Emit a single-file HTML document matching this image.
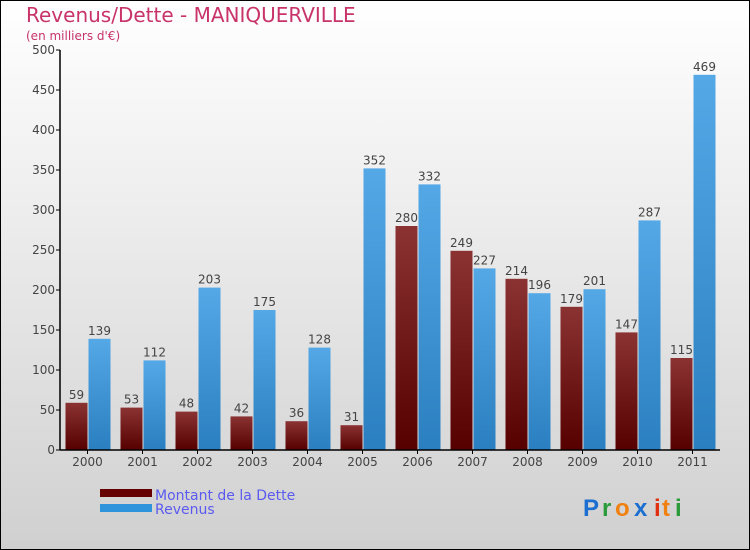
<!DOCTYPE html>
<html><head><meta charset="utf-8"><style>
body{margin:0}
#c{width:750px;height:550px;position:relative;overflow:hidden;font-family:"DejaVu Sans","Liberation Sans",sans-serif}
</style></head><body>
<div id="c">
<svg id="s" width="750" height="550" xmlns="http://www.w3.org/2000/svg">
<defs>
<linearGradient id="bg" x1="0" y1="0" x2="0" y2="1"><stop offset="0" stop-color="#ffffff"/><stop offset="1" stop-color="#d0d0d0"/></linearGradient>
<linearGradient id="gd" x1="0" y1="0" x2="0" y2="1"><stop offset="0" stop-color="#8b3333"/><stop offset="1" stop-color="#560000"/></linearGradient>
<linearGradient id="gr" x1="0" y1="0" x2="0" y2="1"><stop offset="0" stop-color="#55a8e6"/><stop offset="1" stop-color="#2a7fc0"/></linearGradient>
</defs>
<rect x="0.5" y="0.5" width="749" height="549" fill="url(#bg)" stroke="#000"/>
<text x="26" y="22" font-size="20" fill="#c8336a">Revenus/Dette - MANIQUERVILLE</text>
<text x="26" y="40" font-size="12" fill="#c8336a">(en milliers d'€)</text>
<g id="grid"></g>
<g id="bars"></g>
<g id="axes"></g>
<rect x="100" y="489" width="52" height="8" fill="#660000"/>
<rect x="100" y="504" width="52" height="8" fill="#2e95dd"/>
<text x="155" y="500" font-size="14" fill="#5a5af0">Montant de la Dette</text>
<text x="155" y="514" font-size="14" fill="#5a5af0">Revenus</text>
<g font-size="24" font-family="Liberation Sans,sans-serif" font-weight="bold">
<text x="583" y="516" fill="#1a6fd0">P</text><text x="602" y="516" fill="#2a9a3a">r</text><text x="615" y="516" fill="#f08010">o</text><text x="634" y="516" fill="#1a6fd0">x</text><text x="654" y="516" fill="#e03010">i</text><text x="662" y="516" fill="#f08010">t</text><text x="675" y="516" fill="#2a9a3a">i</text>
</g>
</svg>
</div>
<script>
const categories=["2000","2001","2002","2003","2004","2005","2006","2007","2008","2009","2010","2011"];
const dette=[59,53,48,42,36,31,280,249,214,179,147,115];
const revenus=[139,112,203,175,128,352,332,227,196,201,287,469];
const yTicks=[0,50,100,150,200,250,300,350,400,450,500];
const NS="http://www.w3.org/2000/svg";
const x0=60,groupW=55,y0=450,yMax=500,plotH=400,bw=22;
const y=v=>y0-v/yMax*plotH;
const xc=i=>x0+groupW*(i+0.5);
function mk(t,a,parent){const e=document.createElementNS(NS,t);for(const k in a)e.setAttribute(k,a[k]);parent.appendChild(e);return e;}
const grid=document.getElementById('grid'),bars=document.getElementById('bars'),axes=document.getElementById('axes');
yTicks.forEach(t=>{
 const tk=mk('line',{x1:x0-4,x2:x0,y1:y(t),y2:y(t),stroke:'#000'},axes);
 
 
 const l=mk('text',{x:x0-5,y:y(t)+4,'text-anchor':'end','font-size':12,fill:'#444'},axes);
 l.textContent=t;
 
 
});
categories.forEach((c,i)=>{
 const d=mk('rect',{x:xc(i)-bw,y:y(dette[i]),width:bw,height:y0-y(dette[i]),fill:'url(#gd)'},bars);
 
 
 const r=mk('rect',{x:xc(i)+1,y:y(revenus[i]),width:bw,height:y0-y(revenus[i]),fill:'url(#gr)'},bars);
 
 
 const dl=mk('text',{x:xc(i)-bw/2,y:y(dette[i])-4,'text-anchor':'middle','font-size':12,fill:'#444'},bars);
 dl.textContent=dette[i];
 
 
 const rl=mk('text',{x:xc(i)+1+bw/2,y:y(revenus[i])-4,'text-anchor':'middle','font-size':12,fill:'#444'},bars);
 rl.textContent=revenus[i];
 
 
 const tk=mk('line',{x1:xc(i),x2:xc(i),y1:y0,y2:y0+4,stroke:'#000'},axes);
 
 
 const xl=mk('text',{x:xc(i),y:y0+16,'text-anchor':'middle','font-size':12,fill:'#444'},axes);
 xl.textContent=c;
 
 
});
const ya=mk('line',{x1:x0,x2:x0,y1:y(500),y2:y0,stroke:'#000','stroke-width':1.5},axes);


const xa=mk('line',{x1:x0,x2:x0+groupW*categories.length,y1:y0,y2:y0,stroke:'#000','stroke-width':1.5},axes);


</script>
</body></html>
